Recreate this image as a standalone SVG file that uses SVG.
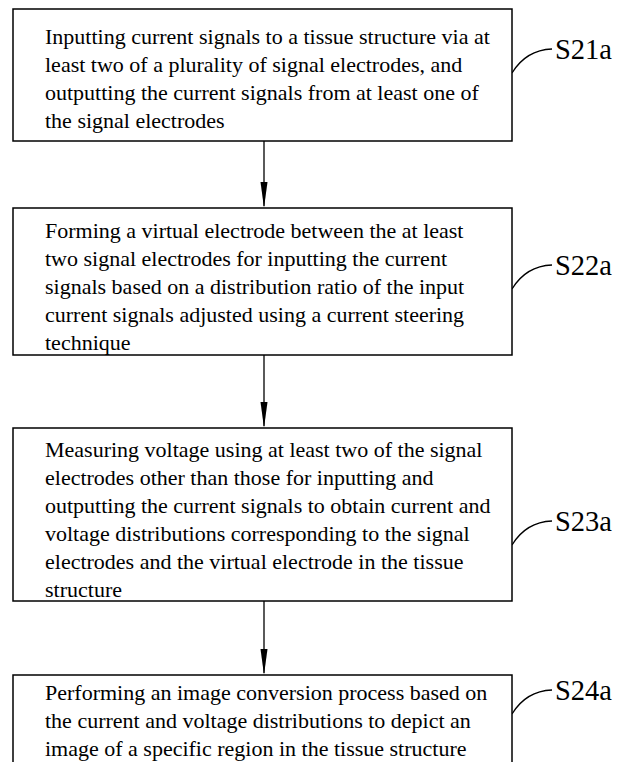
<svg xmlns="http://www.w3.org/2000/svg" width="619" height="762" viewBox="0 0 619 762">
<defs>
<style>
.box{fill:#fff;stroke:#000;stroke-width:1.5}
.t{font-family:"Liberation Serif","Times New Roman",serif;font-size:22px;fill:#000}
.lab{font-family:"Liberation Serif","Times New Roman",serif;font-size:29px;fill:#000}
.ln{fill:none;stroke:#000;stroke-width:1.3}
.ah{fill:#000}
</style>
</defs>
<rect width="619" height="762" fill="#fff"/>
<g id="connectors">
<line class="ln" x1="264" y1="141" x2="264" y2="206"/>
<path class="ah" d="M260.5,182 L267.5,182 L264,208 Z"/>
<line class="ln" x1="264" y1="355" x2="264" y2="426"/>
<path class="ah" d="M260.5,402 L267.5,402 L264,428 Z"/>
<line class="ln" x1="264" y1="601" x2="264" y2="673"/>
<path class="ah" d="M260.5,649 L267.5,649 L264,675 Z"/>
<path class="ln" d="M512,73 Q526,50 552,49"/>
<path class="ln" d="M512,289 Q526,266 552,265"/>
<path class="ln" d="M512,545 Q526,522 552,521"/>
<path class="ln" d="M512,714 Q526,691 552,690"/>
</g>
<g id="s21a">
<rect class="box" x="13" y="9" width="499" height="132"/>
<text class="t" x="45" y="44">Inputting current signals to a tissue structure via at</text>
<text class="t" x="45" y="72">least two of a plurality of signal electrodes, and</text>
<text class="t" x="45" y="100">outputting the current signals from at least one of</text>
<text class="t" x="45" y="128">the signal electrodes</text>
<text class="lab" x="555" y="59" textLength="57" lengthAdjust="spacingAndGlyphs">S21a</text>
</g>
<g id="s22a">
<rect class="box" x="13" y="208" width="499" height="147"/>
<text class="t" x="45" y="238">Forming a virtual electrode between the at least</text>
<text class="t" x="45" y="266">two signal electrodes for inputting the current</text>
<text class="t" x="45" y="294">signals based on a distribution ratio of the input</text>
<text class="t" x="45" y="322">current signals adjusted using a current steering</text>
<text class="t" x="45" y="350">technique</text>
<text class="lab" x="555" y="275" textLength="57" lengthAdjust="spacingAndGlyphs">S22a</text>
</g>
<g id="s23a">
<rect class="box" x="13" y="428" width="499" height="173"/>
<text class="t" x="45" y="457">Measuring voltage using at least two of the signal</text>
<text class="t" x="45" y="485">electrodes other than those for inputting and</text>
<text class="t" x="45" y="513">outputting the current signals to obtain current and</text>
<text class="t" x="45" y="541">voltage distributions corresponding to the signal</text>
<text class="t" x="45" y="569">electrodes and the virtual electrode in the tissue</text>
<text class="t" x="45" y="597">structure</text>
<text class="lab" x="555" y="531" textLength="57" lengthAdjust="spacingAndGlyphs">S23a</text>
</g>
<g id="s24a">
<rect class="box" x="13" y="675" width="499" height="100"/>
<text class="t" x="45" y="700">Performing an image conversion process based on</text>
<text class="t" x="45" y="728">the current and voltage distributions to depict an</text>
<text class="t" x="45" y="756">image of a specific region in the tissue structure</text>
<text class="lab" x="555" y="700" textLength="57" lengthAdjust="spacingAndGlyphs">S24a</text>
</g>
</svg>
